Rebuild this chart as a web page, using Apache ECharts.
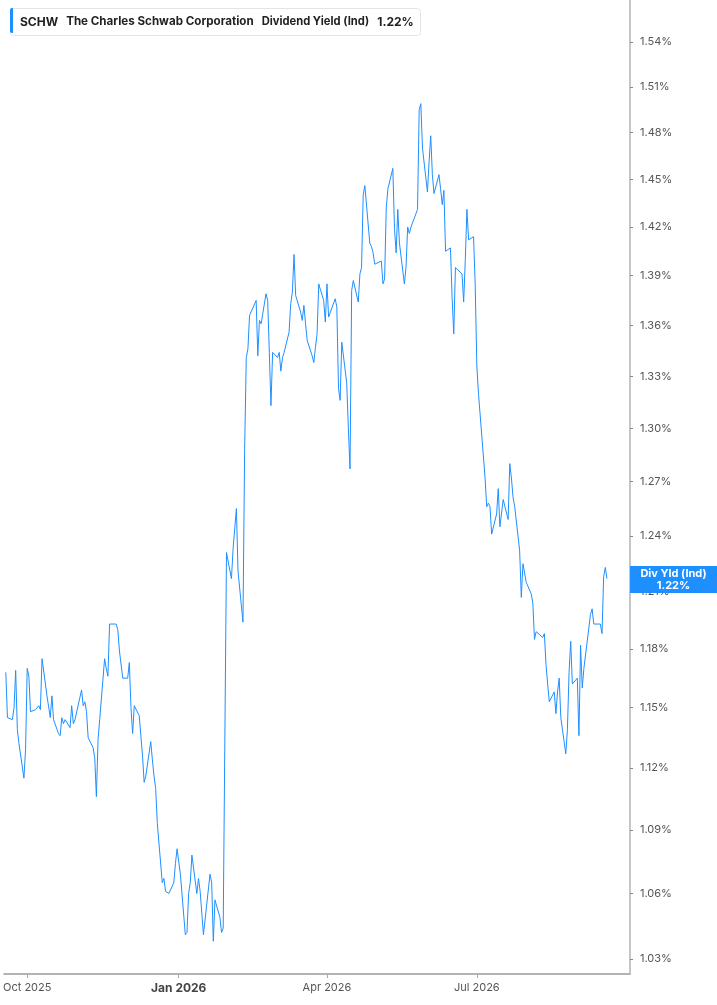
<!DOCTYPE html>
<html>
<head>
<meta charset="utf-8">
<script src="https://cdn.jsdelivr.net/npm/echarts@6/dist/echarts.min.js"></script>
<style>
  html, body { margin: 0; padding: 0; background: #fff; }
  #chart { width: 717px; height: 1005px; }
</style>
</head>
<body>
<div id="chart"></div>
<script>
// SCHW dividend yield (Ind), one value per trading day, oldest first, in percent
const yieldValues = [
  1.168,1.145,1.144,1.150,1.169,1.139,1.132,1.115,1.129,1.170,
  1.166,1.148,1.149,1.149,1.151,1.149,1.175,1.156,1.156,1.145,
  1.156,1.144,1.137,1.136,1.145,1.142,1.144,1.140,1.151,1.142,
  1.144,1.143,1.159,1.151,1.153,1.148,1.135,1.130,1.125,1.106,
  1.134,1.144,1.175,1.170,1.166,1.193,1.193,1.193,1.190,1.179,
  1.165,1.165,1.173,1.150,1.137,1.151,1.146,1.147,1.126,1.113,
  1.116,1.133,1.124,1.116,1.110,1.093,1.065,1.067,1.061,1.060,
  1.065,1.074,1.081,1.069,1.041,1.042,1.060,1.065,1.078,1.060,
  1.067,1.061,1.051,1.041,1.069,1.065,1.038,1.057,1.049,1.042,
  1.044,1.044,1.231,1.217,1.233,1.233,1.255,1.221,1.194,1.287,
  1.341,1.346,1.366,1.375,1.342,1.363,1.361,1.379,1.375,1.344,
  1.313,1.344,1.341,1.344,1.333,1.341,1.344,1.356,1.373,1.380,
  1.403,1.378,1.368,1.363,1.372,1.361,1.351,1.342,1.338,1.347,
  1.355,1.385,1.375,1.362,1.385,1.365,1.376,1.371,1.323,1.316,
  1.350,1.326,1.300,1.277,1.381,1.387,1.374,1.391,1.395,1.440,
  1.446,1.410,1.408,1.404,1.397,1.398,1.399,1.385,1.388,1.432,
  1.444,1.457,1.419,1.404,1.431,1.410,1.385,1.395,1.420,1.416,
  1.420,1.431,1.495,1.499,1.470,1.442,1.461,1.478,1.453,1.441,
  1.453,1.444,1.434,1.443,1.405,1.407,1.376,1.355,1.395,1.391,
  1.374,1.400,1.431,1.412,1.414,1.385,1.336,1.320,1.272,1.256,
  1.258,1.256,1.241,1.252,1.266,1.245,1.245,1.260,1.249,1.280,
  1.272,1.261,1.256,1.232,1.207,1.225,1.226,1.215,1.209,1.204,
  1.185,1.189,1.190,1.186,1.188,1.172,1.162,1.153,1.158,1.147,
  1.158,1.165,1.145,1.127,1.139,1.168,1.184,1.162,1.165,1.136,
  1.182,1.160,1.170,1.198,1.201,1.193,1.193,1.193,1.188,1.218,
  1.223,1.217
];

// last trading day of the series and market holidays in the window
const lastDay = [2026, 8, 18];
const holidays = [
  '2025-11-27','2025-12-25','2026-01-01','2026-01-19','2026-02-16',
  '2026-04-03','2026-05-25','2026-06-19','2026-07-03','2026-09-07'
];

const yTicks = [1.03,1.06,1.09,1.12,1.15,1.18,1.21,1.24,1.27,1.30,1.33,1.36,1.39,1.42,1.45,1.48,1.51,1.54];
const xTicks = [[2025, 9, 1], [2026, 0, 1], [2026, 3, 1], [2026, 6, 1]];
const xRange = [[2025, 8, 17], [2026, 9, 2]];
const yRange = [1.0232, 1.5687];

const seriesName = 'Div Yld (Ind)';
const ticker = 'SCHW';
const company = 'The Charles Schwab Corporation';
const metric = 'Dividend Yield (Ind)';

function ymd(d) {
  const m = d.getMonth() + 1, day = d.getDate();
  return d.getFullYear() + '-' + (m < 10 ? '0' : '') + m + '-' + (day < 10 ? '0' : '') + day;
}

// walk back over trading days from the last one
const dates = [];
let cur = new Date(lastDay[0], lastDay[1], lastDay[2]);
while (dates.length < yieldValues.length) {
  const wd = cur.getDay();
  if (wd !== 0 && wd !== 6 && holidays.indexOf(ymd(cur)) < 0) dates.unshift(cur.getTime());
  cur = new Date(cur.getFullYear(), cur.getMonth(), cur.getDate() - 1);
}

const lastVal = yieldValues[yieldValues.length - 1];
const lnTicks = yTicks.map(v => Math.log(v));
const xTickVals = xTicks.map(t => new Date(t[0], t[1], t[2]).getTime());
const months = ['Jan','Feb','Mar','Apr','May','Jun','Jul','Aug','Sep','Oct','Nov','Dec'];
const blue = '#1e8fff';
const font = 'Inter';

const chart = echarts.init(document.getElementById('chart'));

chart.setOption({
  animation: false,
  grid: { left: 0, right: 87, top: 0, bottom: 31 },
  title: {
    left: 10, top: 8,
    padding: [5, 7, 5, 10],
    backgroundColor: '#fff',
    borderColor: '#e4e4e4',
    borderWidth: 1,
    borderRadius: 3,
    text: '{b|' + ticker + '}{s|}{c|' + company + '}{s|}{n|' + metric + '}{s|}{b|' + lastVal.toFixed(2) + '%}',
    textStyle: {
      rich: {
        b: { fontFamily: font, fontWeight: 'bold', fontSize: 12, color: '#222' },
        c: { fontFamily: font, fontWeight: 'bold', fontSize: 11.6, color: '#222' },
        n: { fontFamily: font, fontSize: 11.2, color: '#222' },
        s: { width: 8 }
      }
    }
  },
  graphic: [{
    type: 'rect', left: 10, top: 8, z: 100,
    shape: { width: 3, height: 25, r: [2, 0, 0, 2] },
    style: { fill: blue }
  }],
  xAxis: {
    type: 'value',
    min: new Date(xRange[0][0], xRange[0][1], xRange[0][2]).getTime(),
    max: new Date(xRange[1][0], xRange[1][1], xRange[1][2]).getTime(),
    axisLine: { onZero: false, lineStyle: { color: '#b3b3b3', width: 2 } },
    axisTick: { show: true, length: 4, customValues: xTickVals, lineStyle: { color: '#aaa' } },
    splitLine: { show: false },
    axisLabel: {
      customValues: xTickVals,
      margin: 8,
      color: '#555',
      fontSize: 11,
      fontFamily: font,
      formatter: function (v) {
        const d = new Date(v);
        const s = months[d.getMonth()] + ' ' + d.getFullYear();
        return d.getMonth() === 0 ? '{y|' + s + '}' : s;
      },
      rich: { y: { fontFamily: font, fontWeight: 'bold', fontSize: 12, color: '#444' } }
    }
  },
  yAxis: {
    type: 'value',
    position: 'right',
    min: Math.log(yRange[0]),
    max: Math.log(yRange[1]),
    axisLine: { show: true, onZero: false, lineStyle: { color: '#b3b3b3', width: 1.5 } },
    axisTick: { show: true, length: 3, customValues: lnTicks, lineStyle: { color: '#888' } },
    splitLine: { show: false },
    axisLabel: {
      customValues: lnTicks,
      margin: 10,
      color: '#555',
      fontSize: 11,
      fontFamily: font,
      formatter: v => Math.exp(v).toFixed(2) + '%'
    }
  },
  series: [{
    name: seriesName,
    type: 'line',
    showSymbol: false,
    data: dates.map((d, i) => [d, Math.log(yieldValues[i])]),
    lineStyle: { color: blue, width: 1 },
    markLine: {
      silent: true,
      symbol: 'none',
      lineStyle: { color: 'rgba(0,0,0,0)', width: 1 },
      data: [{ yAxis: Math.log(lastVal) }],
      label: {
        show: true,
        position: 'end',
        distance: 0,
        offset: [0, 9],
        backgroundColor: blue,
        padding: [2, 0, 1, 0],
        formatter: () => '{t|' + seriesName + '}\n{t|' + lastVal.toFixed(2) + '%}',
        rich: { t: { color: '#fff', fontWeight: 'bold', fontSize: 11, fontFamily: font, width: 87, align: 'center', lineHeight: 12 } }
      }
    }
  }]
});

window.addEventListener('resize', function () { chart.resize(); });
</script>
</body>
</html>
